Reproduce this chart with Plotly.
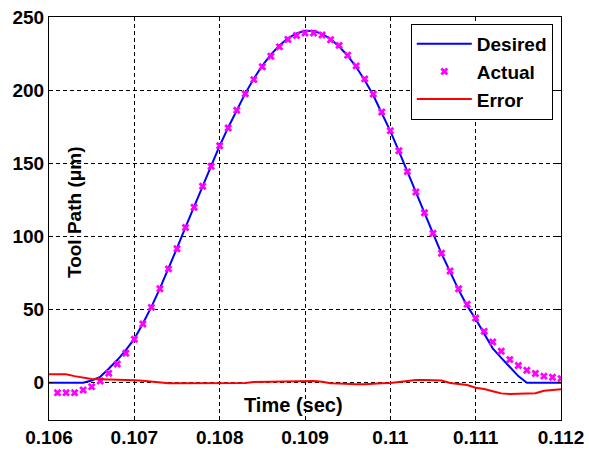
import plotly.graph_objects as go

# ---- data ----
t_desired = [round(0.1060 + i * 0.0001, 4) for i in range(61)]
desired = [0, 0, 0, 0, 0, 1.5, 4.0, 9.5, 15.5, 22.3,
           29.9, 40.5, 51.8, 64.5, 78.0, 92.0, 106.3, 120.2, 134.5, 148.3,
           162.0, 174.5, 186.5, 197.8, 207.8, 216.8, 224.3, 230.5, 235.5, 238.8,
           240.6, 240.4, 238.5, 235.0, 229.8, 223.5, 215.8, 206.8, 196.5, 184.8,
           172.0, 158.3, 144.0, 130.0, 116.0, 102.0, 88.3, 75.8, 63.5, 52.5,
           43.5, 33.5, 23.5, 17.0, 11.0, 4.5, 0, 0, 0, 0, 0]

t_actual = [round(0.1061 + i * 0.0001, 4) for i in range(60)]
actual = [-6.8, -6.8, -6.8, -5.0, -2.7, 1.2, 6.4, 12.8, 20.1, 29.7,
          40.1, 51.5, 64.2, 77.8, 91.6, 106.1, 119.9, 134.3, 148.0, 162.0,
          174.1, 186.2, 197.5, 207.2, 216.0, 223.2, 229.6, 234.6, 237.4, 239.0,
          239.0, 237.7, 234.4, 230.6, 223.9, 216.6, 207.7, 197.4, 185.1, 172.3,
          158.6, 144.3, 130.4, 116.2, 102.1, 88.5, 76.4, 64.2, 53.7, 44.2,
          35.1, 27.8, 21.5, 15.8, 11.8, 8.5, 6.3, 4.5, 3.7, 2.8]

t_error = t_desired
error = [5.7, 5.7, 5.7, 4.5, 3.3, 2.6, 2.4, 2.3, 2.2, 1.9,
         1.7, 1.3, 0.6, 0.3, -0.3, -0.4, -0.4, -0.4, -0.4, -0.4,
         -0.4, -0.4, -0.4, -0.2, 0.4, 0.5, 0.6, 1.0, 1.2, 1.2,
         1.2, 1.1, 0.6, -0.3, -0.5, -1.0, -1.1, -1.1, -0.6, -0.4,
         -0.2, 0.6, 1.5, 1.8, 1.8, 1.8, 1.5, -0.2, -1.0, -1.6,
         -3.5, -4.3, -5.8, -7.3, -7.7, -7.7, -7.7, -7.2, -5.5, -4.8, -4.5]

x_tickvals = [0.106, 0.107, 0.108, 0.109, 0.110, 0.111, 0.112]
x_ticktext = ["0.106", "0.107", "0.108", "0.109", "0.11", "0.111", "0.112"]
y_tickvals = [0, 50, 100, 150, 200, 250]

FONT = "Liberation Sans, Arial, sans-serif"

fig = go.Figure()
fig.add_trace(go.Scatter(x=t_desired, y=desired, mode="lines", name="Desired",
                         line=dict(color="#0000FF", width=2)))
fig.add_trace(go.Scatter(x=t_actual, y=actual, mode="markers", name="Actual",
                         marker=dict(symbol="x", color="#FF00FF", size=7,
                                     line=dict(width=0))))
fig.add_trace(go.Scatter(x=t_error, y=error, mode="lines", name="Error",
                         line=dict(color="#FF0000", width=2)))

axis_common = dict(
    showline=True, linecolor="#000000", linewidth=1, mirror="ticks",
    ticks="inside", ticklen=4, tickcolor="#000000",
    showgrid=True, gridcolor="#000000", gridwidth=1, griddash="4px,3px",
    zeroline=False, automargin=False,
    tickfont=dict(family=FONT, size=19, color="#000000", weight="bold"),
)

fig.update_layout(
    width=589, height=451,
    margin=dict(l=49, r=28, t=17, b=31),
    paper_bgcolor="white", plot_bgcolor="white",
    xaxis=dict(range=[0.106, 0.112], tickvals=x_tickvals, ticktext=x_ticktext,
               **axis_common),
    yaxis=dict(range=[-25.5, 250], tickvals=y_tickvals, **axis_common),
    legend=dict(x=0.984, y=0.983, xanchor="right", yanchor="top",
                bgcolor="white", bordercolor="#000000", borderwidth=1,
                font=dict(family=FONT, size=19, color="#000000", weight="bold"),
                itemwidth=55, tracegroupgap=0),
    showlegend=True,
    annotations=[
        dict(text="Time (sec)", x=0.4785, y=0.037, xref="paper", yref="paper",
             showarrow=False, xanchor="center", yanchor="middle",
             font=dict(family=FONT, size=20, color="#000000", weight="bold")),
        dict(text="Tool Path (\u03bcm)", x=0.0488, y=0.516, xref="paper", yref="paper",
             showarrow=False, xanchor="center", yanchor="middle", textangle=-90,
             font=dict(family=FONT, size=19, color="#000000", weight="bold")),
    ],
)

fig.write_html("out.html")
